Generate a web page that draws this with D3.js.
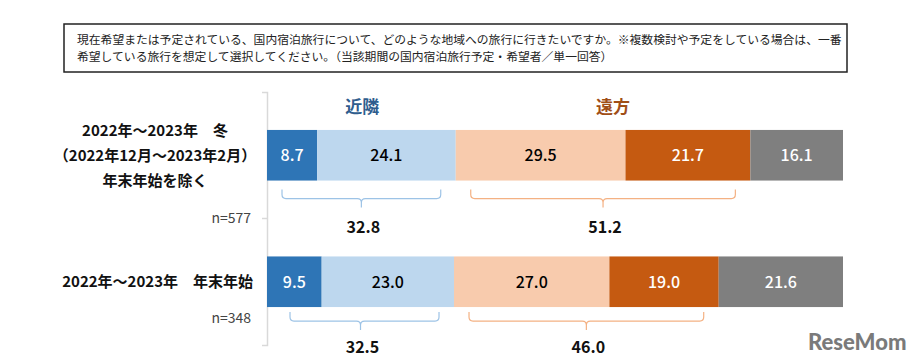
<!DOCTYPE html>
<html><head><meta charset="utf-8">
<script src="https://cdn.jsdelivr.net/npm/d3@7"></script>
<style>
html,body{margin:0;padding:0;background:#fff;}
svg{display:block;font-family:"Noto Sans CJK JP","Noto Sans",sans-serif;}
</style></head>
<body>
<svg id="chart" width="918" height="363"></svg>
<script>
// ---- data ----
const questionLines = [
  "現在希望または予定されている、国内宿泊旅行について、どのような地域への旅行に行きたいですか。※複数検討や予定をしている場合は、一番",
  "希望している旅行を想定して選択してください。（当該期間の国内宿泊旅行予定・希望者／単一回答）"
];
const categories = ["winter", "newyear"];
const categoryLabels = [
  ["2022年～2023年　冬", "（2022年12月～2023年2月）", "年末年始を除く"],
  ["2022年～2023年　年末年始"]
];
const sampleSizes = ["n=577", "n=348"];
const seriesKeys = ["near1", "near2", "far1", "far2", "other"];
const seriesColors = ["#2E75B6", "#BDD7EE", "#F8CBAD", "#C55A11", "#7F7F7F"];
const labelColors = ["#ffffff", "#000000", "#000000", "#ffffff", "#ffffff"];
const values = [
  [8.7, 24.1, 29.5, 21.7, 16.1],
  [9.5, 23.0, 27.0, 19.0, 21.6]
];
const groups = [
  {name: "近隣", from: 0, to: 1, color: "#2F5D8E", brace: "#9DC3E6"},
  {name: "遠方", from: 2, to: 3, color: "#A04E17", brace: "#F4B183"}
];
const groupTotals = [
  ["32.8", "51.2"],
  ["32.5", "46.0"]
];

// ---- layout ----
const svg = d3.select("#chart");
const x = d3.scaleLinear().domain([0, 100.1]).range([267, 843]);
const y = d3.scaleBand().domain(categories).range([92, 345]).paddingInner(0.6).paddingOuter(0.3);

// question box
svg.append("rect").attr("x", 64).attr("y", 24).attr("width", 783).attr("height", 48)
  .attr("fill", "#fff").attr("stroke", "#222").attr("stroke-width", 1.5);
svg.selectAll("text.q").data(questionLines).join("text").attr("class", "q")
  .attr("x", 77).attr("y", (d, i) => 44 + i * 17)
  .attr("font-size", 11.8).attr("fill", "#222").text(d => d);

// axis
const axisG = svg.append("g").attr("transform", `translate(${x(0)},0)`)
  .call(d3.axisLeft(y).tickValues([]).tickSizeOuter(5));
axisG.select(".domain").attr("stroke", "#d9d9d9").attr("stroke-width", 1.5);
const midBoundary = y(categories[1]) - y.step() * y.paddingInner() / 2;
svg.append("line").attr("x1", x(0) - 5).attr("x2", x(0)).attr("y1", midBoundary).attr("y2", midBoundary)
  .attr("stroke", "#d9d9d9").attr("stroke-width", 1.5);

// stacked data
const rows = categories.map((c, i) => {
  let acc = 0;
  return values[i].map((v, j) => { const s = {cat: c, j, v, x0: acc, x1: acc + v}; acc += v; return s; });
});

rows.forEach((segs, i) => {
  const g = svg.append("g");
  const y0 = y(categories[i]);
  const bh = y.bandwidth();
  g.selectAll("rect").data(segs).join("rect")
    .attr("x", d => x(d.x0)).attr("y", y0)
    .attr("width", d => x(d.x1) - x(d.x0)).attr("height", bh)
    .attr("fill", d => seriesColors[d.j]);
  g.selectAll("text").data(segs).join("text")
    .attr("x", d => (x(d.x0) + x(d.x1)) / 2).attr("y", y0 + bh / 2)
    .attr("dy", "0.36em").attr("text-anchor", "middle")
    .attr("font-size", 16).attr("font-weight", 500)
    .attr("fill", d => labelColors[d.j]).text(d => d.v.toFixed(1));

  // braces
  const braceGap = i === 0 ? 9 : 5;
  const totalGap = i === 0 ? 47 : 40;
  groups.forEach((gr, k) => {
    const a = x(segs[gr.from].x0) + (k === 0 && i === 1 ? 23 : 15);
    const b = x(segs[gr.to].x1) - 15;
    const m = (x(segs[gr.from].x0) + x(segs[gr.to].x1)) / 2;
    const top = y0 + bh + braceGap, mid = top + 9, tip = mid + 9, r = 4;
    const p = `M${a},${top} L${a},${mid - r} Q${a},${mid} ${a + r},${mid} L${m - r},${mid} Q${m},${mid} ${m},${mid + r} L${m},${tip} M${m},${mid + r} Q${m},${mid} ${m + r},${mid} L${b - r},${mid} Q${b},${mid} ${b},${mid - r} L${b},${top}`;
    svg.append("path").attr("d", p).attr("fill", "none").attr("stroke", gr.brace).attr("stroke-width", 1.2);
    svg.append("text").attr("x", m + 2).attr("y", y0 + bh + totalGap).attr("dy", "0.36em")
      .attr("text-anchor", "middle").attr("font-size", 16).attr("font-weight", 700)
      .attr("fill", "#111").text(groupTotals[i][k]);
  });

  // category labels
  const lines = categoryLabels[i];
  if (lines.length > 1) {
    svg.selectAll(null).data(lines).join("text")
      .attr("x", 155).attr("y", (d, li) => y0 + 1 + li * 25).attr("dy", "0.36em")
      .attr("text-anchor", "middle").attr("font-size", 15).attr("font-weight", 700)
      .attr("fill", "#111").text(d => d);
  } else {
    svg.append("text").attr("x", 253).attr("y", y0 + bh / 2).attr("dy", "0.36em")
      .attr("text-anchor", "end").attr("font-size", 15).attr("font-weight", 700)
      .attr("fill", "#111").text(lines[0]);
  }
  svg.append("text").attr("x", 251).attr("y", i === 0 ? y0 + bh + 37 : y0 + bh + 11).attr("dy", "0.36em")
    .attr("text-anchor", "end").attr("font-size", 14).attr("fill", "#444").text(sampleSizes[i]);
});

// group headers
const first = rows[0];
groups.forEach(gr => {
  const m = (x(first[gr.from].x0) + x(first[gr.to].x1)) / 2;
  svg.append("text").attr("x", m + (gr.from === 0 ? 1 : 10)).attr("y", 107).attr("dy", "0.36em")
    .attr("text-anchor", "middle").attr("font-size", 17).attr("font-weight", 700)
    .attr("fill", gr.color).text(gr.name);
});

// watermark
svg.append("text").attr("x", 808).attr("y", 350).attr("font-family", "Lato, sans-serif")
  .attr("font-size", 22).attr("font-weight", 900).attr("fill", "#7a7a7a").text("ReseMom");
</script>
</body></html>
